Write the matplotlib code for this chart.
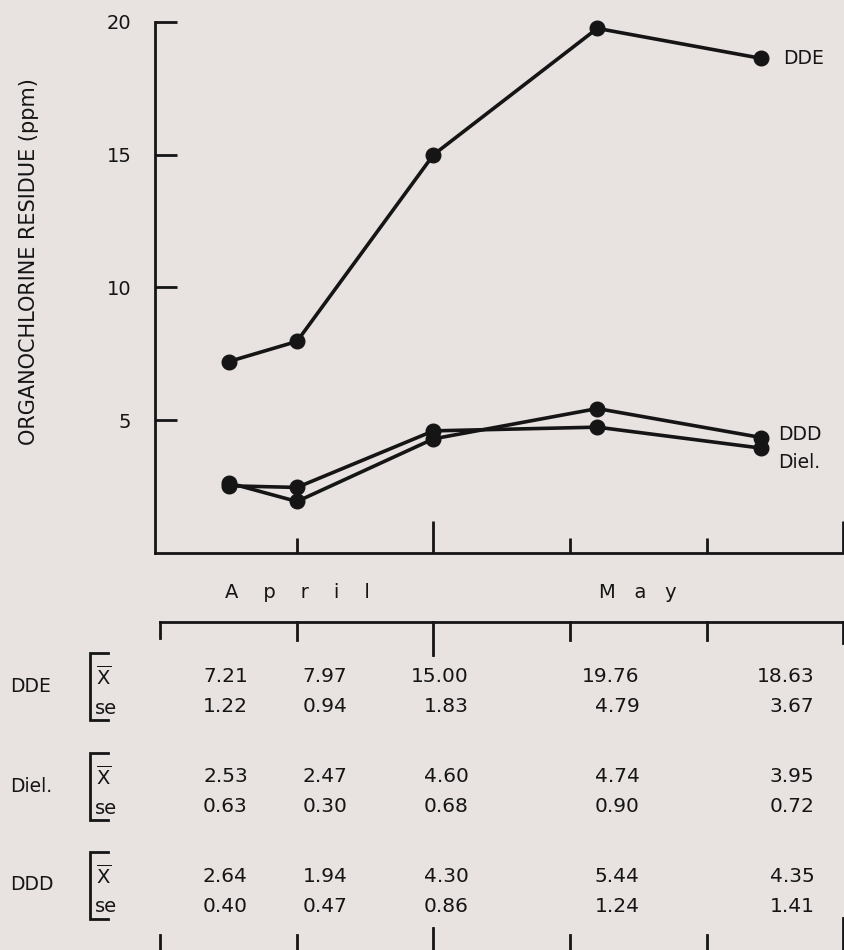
import numpy as np
import matplotlib.pyplot as plt
from matplotlib.transforms import blended_transform_factory

# sampling dates as day numbers counted from 0 April (30 = 30 Apr, 42 = 12 May)
days = [15, 20, 30, 42, 54]

dde_mean = [7.21, 7.97, 15.00, 19.76, 18.63]
dde_se = [1.22, 0.94, 1.83, 4.79, 3.67]
diel_mean = [2.53, 2.47, 4.60, 4.74, 3.95]
diel_se = [0.63, 0.30, 0.68, 0.90, 0.72]
ddd_mean = [2.64, 1.94, 4.30, 5.44, 4.35]
ddd_se = [0.40, 0.47, 0.86, 1.24, 1.41]

names = ['DDE', 'Diel.', 'DDD']
months = ['A    p    r    i    l', 'M   a   y']
month_pos = [20, 45]

bg = '#e8e2e1'
ink = '#151515'
plt.rcParams['font.family'] = 'DejaVu Sans'
plt.rcParams['text.color'] = ink

W, H = 844, 950
fig = plt.figure(figsize=(W / 100, H / 100), dpi=100, facecolor=bg)

''' upper panel: the residue curves '''
ax = fig.add_axes([155 / W, 397 / H, 689 / W, 531 / H])
ax.set_facecolor(bg)
ax.patch.set_alpha(0)

for ys in [dde_mean, diel_mean, ddd_mean]:
    ax.plot(days, ys, '-o', color=ink, lw=2.6, ms=10.5, clip_on=False)

ax.set_xlim(9.6, 60.07)
ax.set_ylim(0, 20)
ax.spines[['top', 'right']].set_visible(False)
ax.spines[['left', 'bottom']].set_linewidth(2)
ax.spines[['left', 'bottom']].set_color(ink)

ax.set_yticks([5, 10, 15, 20])
ax.tick_params(axis='y', direction='in', length=16, width=2, color=ink,
               labelsize=14, pad=17, labelcolor=ink)
ax.set_xticks([30, 60])
ax.set_xticks([20, 40, 50], minor=True)
ax.tick_params(axis='x', which='major', direction='in', length=23, width=2,
               color=ink, labelbottom=False)
ax.tick_params(axis='x', which='minor', direction='in', length=11, width=2,
               color=ink, labelbottom=False)

fig.text(29 / W, 1 - 262 / H, 'ORGANOCHLORINE RESIDUE (ppm)', rotation=90,
         ha='center', va='center', fontsize=15)

# curve names at the last sample
ax.annotate(names[0], (days[-1], dde_mean[-1]), xytext=(16, 0),
            textcoords='offset points', va='center', fontsize=13.5)
ax.annotate(names[2], (days[-1], ddd_mean[-1]), xytext=(12, 2),
            textcoords='offset points', va='center', fontsize=13.5)
ax.annotate(names[1], (days[-1], diel_mean[-1]), xytext=(12, -10),
            textcoords='offset points', va='center', fontsize=13.5)

''' lower panel: month bar and table of means / se '''
low = fig.add_axes([0, 0, 1, 397 / H])
low.set_xlim(0, W)
low.set_ylim(H, 553)
low.axis('off')
tr = blended_transform_factory(ax.transData, low.transData)

for lab, xp in zip(months, month_pos):
    low.text(xp, 592, lab, transform=tr, ha='center', va='center', fontsize=14)

low.plot([10, 60], [622, 622], color=ink, lw=2, transform=tr, clip_on=False)
for d, l_top, l_bot in zip([10, 20, 30, 40, 50, 60],
                           [16, 18, 33, 18, 18, 21],
                           [15, 15, 22, 15, 15, 32]):
    low.plot([d, d], [622, 622 + l_top], color=ink, lw=2, transform=tr,
             clip_on=False)
    low.plot([d, d], [H, H - l_bot], color=ink, lw=2, transform=tr,
             clip_on=False)

means = [dde_mean, diel_mean, ddd_mean]
ses = [dde_se, diel_se, ddd_se]
row_y = [677, 777, 876]
col_x = [16.4, 23.7, 32.6, 45.1, 57.9]

for name, m, s, y in zip(names, means, ses, row_y):
    low.text(10, y + 9, name, ha='left', va='center', fontsize=13.5)
    low.plot([108, 90, 90, 108], [y - 24, y - 24, y + 43, y + 43],
             color=ink, lw=2, solid_joinstyle='miter')
    low.text(96, y, r'$\overline{\mathrm{X}}$', ha='left', va='center',
             fontsize=14)
    low.text(95, y + 31, 'se', ha='left', va='center', fontsize=14)
    for xc, mv, sv in zip(col_x, m, s):
        low.text(xc, y, f'{mv:.2f}', transform=tr, ha='right', va='center',
                 fontsize=14.5)
        low.text(xc, y + 30, f'{sv:.2f}', transform=tr, ha='right',
                 va='center', fontsize=14.5)

fig.savefig('out.png', dpi=100, facecolor=bg)
